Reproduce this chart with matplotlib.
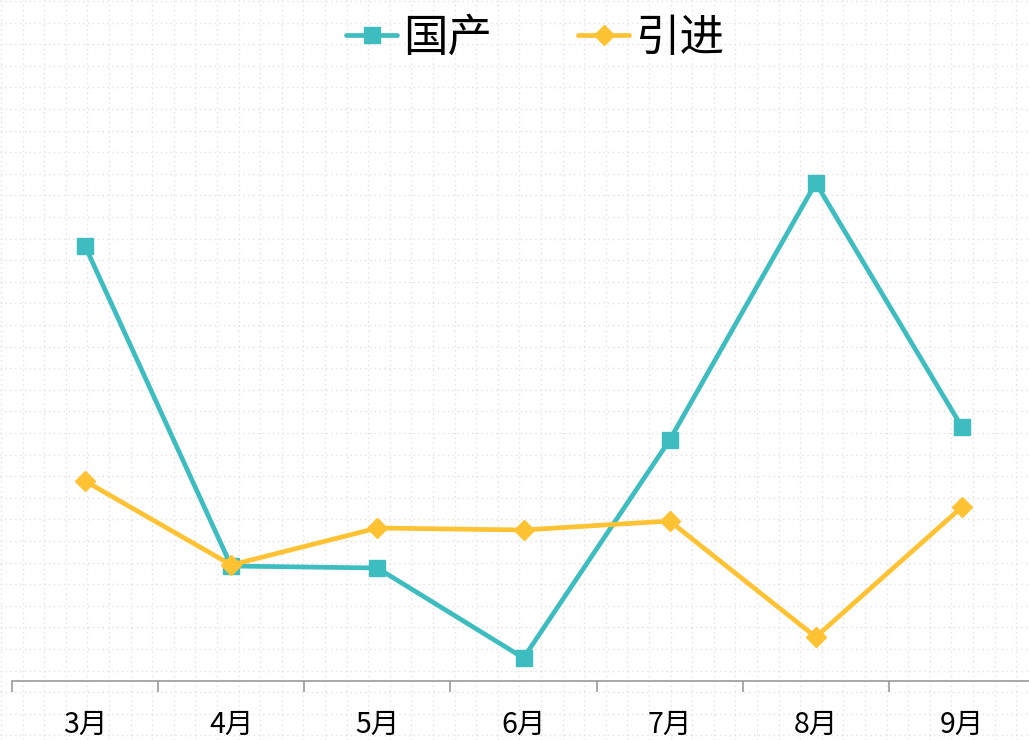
import numpy as np
import matplotlib
matplotlib.use("Agg")
import matplotlib.pyplot as plt

plt.rcParams['font.family'] = ['Noto Sans CJK SC', 'DejaVu Sans']

months = ["3月", "4月", "5月", "6月", "7月", "8月", "9月"]
domestic = [87.0, 23.0, 22.6, 4.6, 48.2, 99.6, 50.8]   # 国产
imported = [40.0, 23.2, 30.6, 30.2, 32.0, 8.8, 34.8]   # 引进

TEAL = "#3dbdc0"
GOLD = "#ffc232"

W, H = 1029, 740
fig = plt.figure(figsize=(W / 100, H / 100), dpi=100)

# dotted page background
bg = fig.add_axes([0, 0, 1, 1], zorder=0)
bg.set_xlim(0, W); bg.set_ylim(H, 0); bg.axis("off")
for gx in np.arange(1, W, 21.6):
    bg.axvline(gx, color="#e2e2e2", lw=1.0, ls=(0, (1, 2.5)))
for gy in np.arange(1, H, 21.6):
    bg.axhline(gy, color="#e2e2e2", lw=1.0, ls=(0, (1, 2.5)))

# plot area: x-axis at y=681px, runs from x=12px, 146.2px per category
left, bottom = 12 / W, (H - 681) / H
ax = fig.add_axes([left, bottom, 1023 / W, 621 / H], zorder=1)
ax.patch.set_alpha(0)
x = np.arange(len(months))
ax.plot(x, domestic, color=TEAL, lw=3.4, marker="s", ms=11, label="国产",
        solid_capstyle="round", clip_on=False, zorder=3)
ax.plot(x, imported, color=GOLD, lw=3.4, marker="D", ms=10, label="引进",
        solid_capstyle="round", clip_on=False, zorder=3)

ax.set_xlim(-0.5, 6.5)
ax.set_ylim(0, 124.2)
for s in ("top", "right", "left"):
    ax.spines[s].set_visible(False)
ax.spines["bottom"].set_color("#9a9a9a")
ax.spines["bottom"].set_linewidth(1.2)
ax.set_yticks([])
ax.set_xticks(x)
ax.set_xticklabels(months, fontsize=20.5)
ax.tick_params(axis="x", which="major", length=0, pad=21)
ax.set_xticks(np.arange(-0.5, 6.0, 1), minor=True)
ax.tick_params(axis="x", which="minor", length=8, width=1.2, color="#9a9a9a")

leg = fig.legend(loc="center", bbox_to_anchor=(535 / W, (H - 38) / H), ncol=2,
                 frameon=False, fontsize=32, handlelength=1.15, handletextpad=0.12,
                 columnspacing=1.95)

fig.savefig("out.png", dpi=100)
